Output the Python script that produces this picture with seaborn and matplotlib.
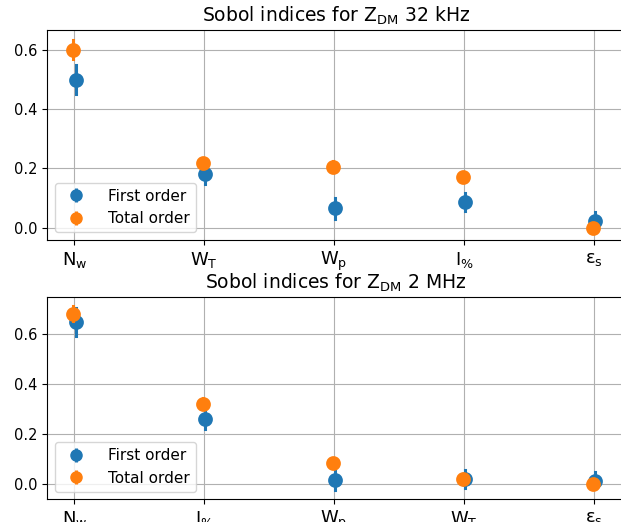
import numpy as np
import pandas as pd
import matplotlib
matplotlib.use("Agg")
import matplotlib.pyplot as plt
from matplotlib.lines import Line2D
import seaborn as sns

# Sobol indices, Z_DM at 32 kHz
params_32k = [r"$\mathrm{N_w}$", r"$\mathrm{W_T}$", r"$\mathrm{W_p}$", r"$\mathrm{I_{\%}}$", r"$\mathrm{ε_s}$"]
first_32k = [0.50, 0.181, 0.065, 0.088, 0.024]
first_err_32k = [0.048, 0.032, 0.035, 0.030, 0.030]
total_32k = [0.601, 0.218, 0.206, 0.170, 0.000]
total_err_32k = [0.033, 0.012, 0.018, 0.010, 0.008]

# Sobol indices, Z_DM at 2 MHz
params_2m = [r"$\mathrm{N_w}$", r"$\mathrm{I_{\%}}$", r"$\mathrm{W_p}$", r"$\mathrm{W_T}$", r"$\mathrm{ε_s}$"]
first_2m = [0.649, 0.262, 0.017, 0.021, 0.015]
first_err_2m = [0.055, 0.040, 0.040, 0.036, 0.035]
total_2m = [0.681, 0.321, 0.084, 0.020, 0.000]
total_err_2m = [0.030, 0.022, 0.010, 0.010, 0.008]

orders = ["First order", "Total order"]
colors = ["#1f77b4", "#ff7f0e"]


def long_table(params, first, first_err, total, total_err):
    """Two rows per index (value - err, value + err): the mean is the index,
    the min/max span is the error bar."""
    rows = []
    for order, vals, errs in ((orders[0], first, first_err), (orders[1], total, total_err)):
        for p, v, e in zip(params, vals, errs):
            rows.append({"param": p, "order": order, "S": v - e})
            rows.append({"param": p, "order": order, "S": v + e})
    return pd.DataFrame(rows)


def span(v):
    return (np.min(v), np.max(v))


fig = plt.figure(figsize=(6.21, 5.22), dpi=100)
W, H = 621, 522
ax_top = fig.add_axes([47 / W, 1 - 240 / H, 578 / W, 210 / H])
ax_bot = fig.add_axes([47 / W, 1 - 499.3 / H, 578 / W, 202.6 / H])

panels = [
    (ax_top, long_table(params_32k, first_32k, first_err_32k, total_32k, total_err_32k),
     params_32k, r"Sobol indices for Z$_{\mathrm{DM}}$ 32 kHz", (-0.0416, 0.6675)),
    (ax_bot, long_table(params_2m, first_2m, first_err_2m, total_2m, total_err_2m),
     params_2m, r"Sobol indices for Z$_{\mathrm{DM}}$ 2 MHz", (-0.0597, 0.749)),
]

for ax, df, params, title, ylim in panels:
    sns.pointplot(
        data=df, x="param", y="S", hue="order", order=params, hue_order=orders,
        palette=colors, estimator="mean", errorbar=span, dodge=-0.02,
        linestyle="none", markersize=8.6, err_kws={"linewidth": 2.2},
        ax=ax, legend=False,
    )
    ax.set_xlim(-0.21, 4.24)
    ax.set_ylim(*ylim)
    ax.set_yticks([0.0, 0.2, 0.4, 0.6])
    ax.grid(True, color="#b0b0b0", linewidth=0.8)
    ax.set_axisbelow(True)
    ax.set_xlabel("")
    ax.set_ylabel("")
    ax.set_title(title, fontsize=13.5)
    ax.tick_params(axis="x", labelsize=13)
    ax.tick_params(axis="y", labelsize=10.5)
    handles = [
        (Line2D([], [], marker="|", markersize=10, markeredgewidth=2.2, color=c, linestyle="none"),
         Line2D([], [], marker="o", markersize=8, color=c, linestyle="none"))
        for c in colors
    ]
    ax.legend(handles, orders, loc="lower left", fontsize=11, handletextpad=1.1)

fig.savefig("out.png", dpi=100)
